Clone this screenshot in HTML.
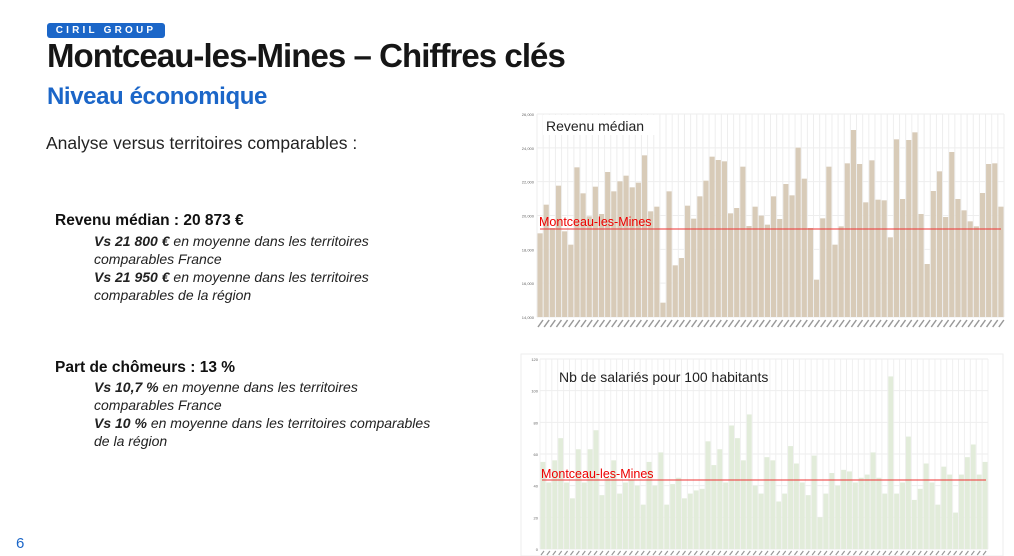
<!DOCTYPE html>
<html><head><meta charset="utf-8">
<style>
body{margin:0;width:1014px;height:556px;overflow:hidden;background:#fff;font-family:"Liberation Sans",sans-serif;position:relative}
.a{position:absolute;white-space:nowrap}
.badge{left:47px;top:23px;width:118px;height:15px;background:#1b66c8;border-radius:3px;color:#fff;font-size:10px;font-weight:bold;letter-spacing:3.2px;text-align:center;line-height:15px}
.t{left:47px;top:37px;font-size:33px;font-weight:bold;color:#161616;letter-spacing:-0.95px}
.s{left:47px;top:83px;font-size:24px;font-weight:bold;color:#1b66c8;letter-spacing:-0.4px}
.p{font-size:17.5px;color:#222}
.h{font-size:15.5px;font-weight:bold;color:#111}
.i{font-size:14px;font-style:italic;color:#222;line-height:18px}
</style></head><body>
<div class="a badge">CIRIL GROUP</div>
<div class="a t">Montceau-les-Mines – Chiffres clés</div>
<div class="a s">Niveau économique</div>
<div class="a p" style="left:46px;top:133px">Analyse versus territoires comparables :</div>
<div class="a h" style="left:55px;top:212px">Revenu médian : 20 873 €</div>
<div class="a i" style="left:94px;top:232px"><b>Vs 21 800 €</b> en moyenne dans les territoires<br>comparables France<br><b>Vs 21 950 €</b> en moyenne dans les territoires<br>comparables de la région</div>
<div class="a h" style="left:55px;top:359px">Part de chômeurs : 13 %</div>
<div class="a i" style="left:94px;top:378px"><b>Vs 10,7 %</b> en moyenne dans les territoires<br>comparables France<br><b>Vs 10 %</b> en moyenne dans les territoires comparables<br>de la région</div>
<div class="a" style="left:16px;top:535px;font-size:15px;color:#1b66c8">6</div>
<svg id="sv" class="a" style="left:0;top:0" width="1014" height="556"></svg>
<script>
(function(){
var ns="http://www.w3.org/2000/svg",sv=document.getElementById('sv');
function el(t,a,txt){var e=document.createElementNS(ns,t);for(var k in a)e.setAttribute(k,a[k]);if(txt)e.textContent=txt;sv.appendChild(e);return e;}
var z1=[376,290,360,233,370,410,178,256,325,236,318,192,250,220,203,238,224,142,310,296,584,250,472,450,293,332,265,218,146,156,160,316,300,176,354,296,323,350,265,333,228,262,119,212,360,515,331,176,410,355,166,66,168,283,157,275,277,388,94,273,96,73,318,468,249,190,327,132,273,307,340,355,255,168,166,296];
var x0=537,x1=1004,yb=317,yt=114;
el('rect',{x:520,y:110,width:488,height:222,fill:'#fff'});
var n=z1.length,w=(x1-x0)/n;
for(var i=0;i<=n;i++)el('line',{x1:x0+i*w,x2:x0+i*w,y1:yt,y2:yb,stroke:'#eee','stroke-width':1});
for(var j=0;j<=6;j++){var y=yb-j*(yb-yt)/6;el('line',{x1:x0,x2:x1,y1:y,y2:y,stroke:'#eee'});el('text',{x:534,y:y+2,'font-size':4,'text-anchor':'end',fill:'#666'},(14+2*j)+',000');}
for(var i=0;i<n;i++){var tp=108+z1[i]/3;el('rect',{x:x0+i*w+0.5,y:tp,width:w-1,height:yb-tp,fill:'#d8cbb8'});
el('line',{x1:x0+i*w+1,y1:yb+10,x2:x0+i*w+6,y2:yb+3,stroke:'#999','stroke-width':1.5});}
el('line',{x1:540,x2:1001,y1:229,y2:229,stroke:'#e33','stroke-width':1});
el('text',{x:539,y:226,'font-size':12.5,fill:'#e00'},'Montceau-les-Mines');
el('rect',{x:543,y:115,width:115,height:20,fill:'#fff'});
el('text',{x:546,y:131,'font-size':14,fill:'#222'},'Revenu médian');
var v2=[55,42,56,70,42,32,63,42,63,75,34,45,56,35,42,44,40,28,55,40,61,28,41,45,32,35,37,38,68,53,63,42,78,70,56,85,40,35,58,56,30,35,65,54,42,34,59,20,35,48,40,50,49,42,45,47,61,45,35,109,35,42,71,31,38,54,42,28,52,47,23,47,58,66,47,55];
var X0=540,X1=988,YB=549,YT=359;
el('rect',{x:521,y:354,width:482,height:202,fill:'#fff',stroke:'#eee'});
var m=v2.length,W=(X1-X0)/m;
for(var i=0;i<=m;i++)el('line',{x1:X0+i*W,x2:X0+i*W,y1:YT,y2:YB,stroke:'#f0f0f0'});
for(var j=0;j<=6;j++){var y=YB-j*(YB-YT)/6;el('line',{x1:X0,x2:X1,y1:y,y2:y,stroke:'#eee'});el('text',{x:538,y:y+2,'font-size':4,'text-anchor':'end',fill:'#666'},String(20*j));}
for(var i=0;i<m;i++){var h=v2[i]/120*(YB-YT);el('rect',{x:X0+i*W+0.5,y:YB-h,width:W-1,height:h,fill:'#e2ecda'});
el('line',{x1:X0+i*W+1,y1:YB+6,x2:X0+i*W+4,y2:YB+2,stroke:'#999','stroke-width':1.2});}
el('line',{x1:542,x2:986,y1:480,y2:480,stroke:'#e33','stroke-width':1});
el('text',{x:541,y:478,'font-size':12.5,fill:'#e00'},'Montceau-les-Mines');
el('text',{x:559,y:382,'font-size':14,fill:'#222'},'Nb de salariés pour 100 habitants');
})();
</script>
</body></html>
